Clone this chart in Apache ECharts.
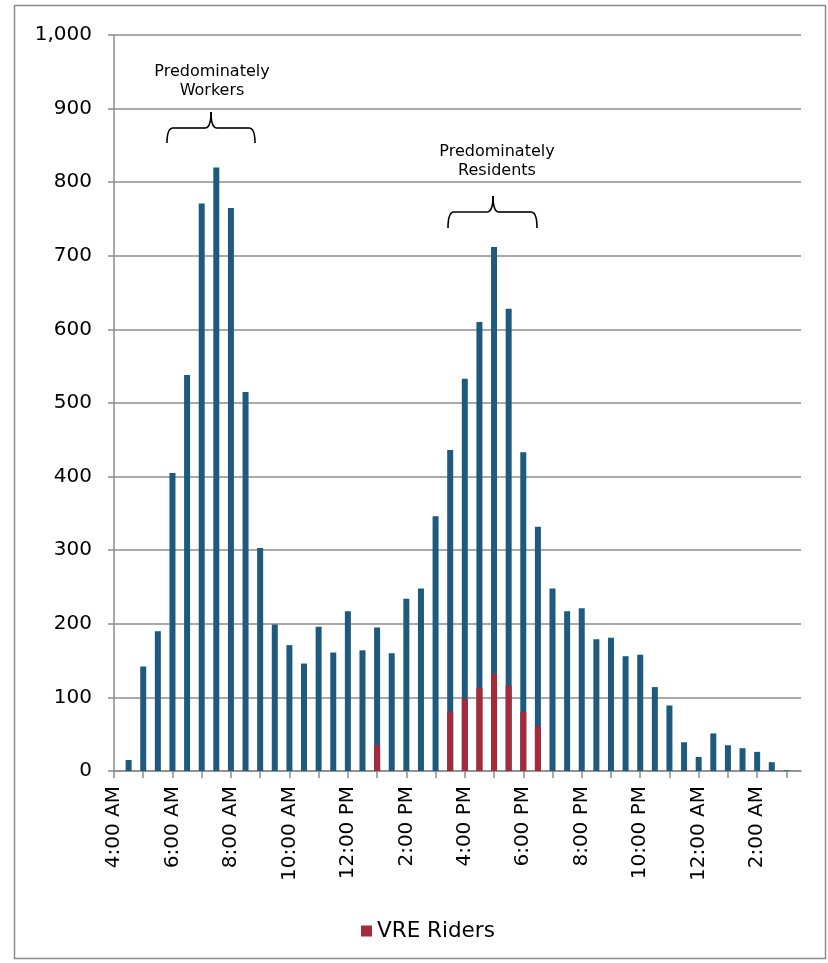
<!DOCTYPE html>
<html>
<head>
<meta charset="utf-8">
<script src="https://cdn.jsdelivr.net/npm/echarts@6/dist/echarts.min.js"></script>
<style>
  html, body { margin: 0; padding: 0; background: #fff; }
  #chart { width: 828px; height: 963px; }
</style>
</head>
<body>
<div id="chart"></div>
<script>
// Half-hour time slots (category axis)
var times = [
  '4:00 AM','4:30 AM','5:00 AM','5:30 AM','6:00 AM','6:30 AM','7:00 AM','7:30 AM',
  '8:00 AM','8:30 AM','9:00 AM','9:30 AM','10:00 AM','10:30 AM','11:00 AM','11:30 AM',
  '12:00 PM','12:30 PM','1:00 PM','1:30 PM','2:00 PM','2:30 PM','3:00 PM','3:30 PM',
  '4:00 PM','4:30 PM','5:00 PM','5:30 PM','6:00 PM','6:30 PM','7:00 PM','7:30 PM',
  '8:00 PM','8:30 PM','9:00 PM','9:30 PM','10:00 PM','10:30 PM','11:00 PM','11:30 PM',
  '12:00 AM','12:30 AM','1:00 AM','1:30 AM','2:00 AM','2:30 AM','3:00 AM','3:30 AM'
];

// Total riders per half hour
var totalRiders = [
  0, 15, 142, 190, 405, 538, 771, 820,
  765, 515, 303, 199, 171, 146, 196, 161,
  217, 164, 195, 160, 234, 248, 346, 436,
  533, 610, 712, 628, 433, 332, 248, 217,
  221, 179, 181, 156, 158, 114, 89, 39,
  19, 51, 35, 31, 26, 12, 1, 0
];

// VRE riders per half hour
var vreRiders = [
  null, null, null, null, null, null, null, null,
  null, null, null, null, null, null, null, null,
  null, null, 35, null, null, null, null, 80,
  98, 113, 132, 116, 80, 61, null, null,
  null, null, null, null, null, null, null, null,
  null, null, null, null, null, null, null, null
];

var yTicks = { min: 0, max: 1000, interval: 100 };

var FONT = 'DejaVu Sans';
var GRAY = '#8c8c8c';

var chart = echarts.init(document.getElementById('chart'), null, { renderer: 'canvas' });

function brace(x0, x1, xc, yt, yh, yb) {
  var r = 6;
  var st = { stroke: '#000', lineWidth: 1.6, fill: null };
  return [
    { type: 'bezierCurve', shape: { x1: x0, y1: yb, cpx1: x0, cpy1: yh, x2: x0 + r, y2: yh }, style: st, silent: true },
    { type: 'line', shape: { x1: x0 + r, y1: yh, x2: xc - r, y2: yh }, style: st, silent: true },
    { type: 'bezierCurve', shape: { x1: xc - r, y1: yh, cpx1: xc, cpy1: yh, x2: xc, y2: yt }, style: st, silent: true },
    { type: 'bezierCurve', shape: { x1: xc, y1: yt, cpx1: xc, cpy1: yh, x2: xc + r, y2: yh }, style: st, silent: true },
    { type: 'line', shape: { x1: xc + r, y1: yh, x2: x1 - r, y2: yh }, style: st, silent: true },
    { type: 'bezierCurve', shape: { x1: x1 - r, y1: yh, cpx1: x1, cpy1: yh, x2: x1, y2: yb }, style: st, silent: true }
  ];
}

var graphics = [
  {
    type: 'rect',
    shape: { x: 14.5, y: 5.5, width: 811, height: 953 },
    style: { fill: null, stroke: GRAY, lineWidth: 1.5 },
    silent: true, z: -10
  },
  {
    type: 'text', x: 212, y: 62,
    style: { text: 'Predominately\nWorkers', fontFamily: FONT, fontSize: 16, fill: '#000', align: 'center', verticalAlign: 'top', lineHeight: 19 }
  },
  {
    type: 'text', x: 497, y: 142,
    style: { text: 'Predominately\nResidents', fontFamily: FONT, fontSize: 16, fill: '#000', align: 'center', verticalAlign: 'top', lineHeight: 19 }
  }
].concat(brace(167, 255, 211, 112, 128, 143)).concat(brace(448, 537, 493, 196, 212, 228));

var option = {
  animation: false,
  backgroundColor: '#fff',
  textStyle: { fontFamily: FONT },
  grid: { left: 114, right: 27, top: 35, bottom: 192, containLabel: false },
  legend: {
    data: ['VRE Riders'],
    left: 356,
    top: 915,
    icon: 'rect',
    itemWidth: 11,
    itemHeight: 11,
    textStyle: { fontFamily: FONT, fontSize: 21.5, color: '#000' }
  },
  xAxis: {
    type: 'category',
    data: times,
    boundaryGap: false,
    axisLine: { show: true, lineStyle: { color: GRAY, width: 1.5 } },
    axisTick: {
      show: true,
      length: 7,
      interval: function (i) { return i % 2 === 0; },
      lineStyle: { color: GRAY, width: 1.5 }
    },
    axisLabel: {
      interval: function (i) { return i % 4 === 0; },
      rotate: 90,
      margin: 15,
      fontFamily: FONT,
      fontSize: 20,
      color: '#000'
    },
    splitLine: { show: false }
  },
  yAxis: {
    type: 'value',
    min: yTicks.min,
    max: yTicks.max,
    interval: yTicks.interval,
    axisLine: { show: true, lineStyle: { color: GRAY, width: 1.5 } },
    axisTick: { show: true, length: 6, lineStyle: { color: GRAY, width: 1.5 } },
    axisLabel: {
      margin: 22,
      fontFamily: FONT,
      fontSize: 20,
      color: '#000',
      formatter: function (v) { return v.toLocaleString('en-US'); }
    },
    splitLine: { show: true, lineStyle: { color: GRAY, width: 1.5 } }
  },
  series: [
    {
      name: 'All Riders',
      type: 'bar',
      data: totalRiders,
      barWidth: 6,
      barGap: '-100%',
      itemStyle: { color: '#1d5a7d' }
    },
    {
      name: 'VRE Riders',
      type: 'bar',
      data: vreRiders,
      barWidth: 6,
      barGap: '-100%',
      itemStyle: { color: '#a52a3a' }
    }
  ],
  graphic: graphics
};

chart.setOption(option);
</script>
</body>
</html>
